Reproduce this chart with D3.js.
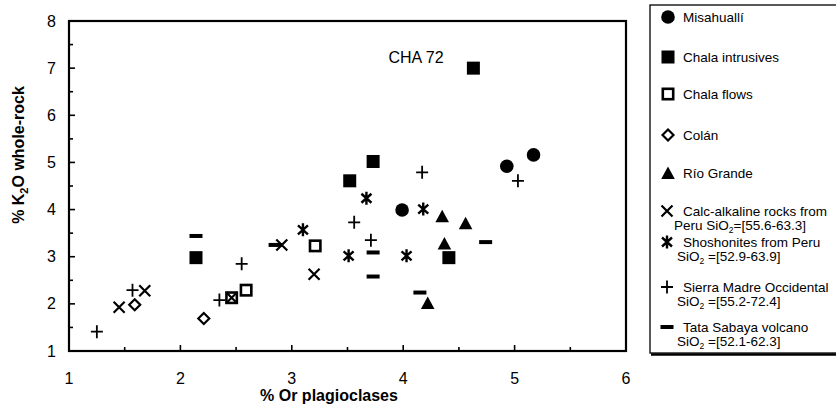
<!DOCTYPE html>
<html>
<head>
<meta charset="utf-8">
<script src="https://cdn.jsdelivr.net/npm/d3@7"></script>
<style>
  body { margin: 0; background: #fff; }
  svg { font-family: "Liberation Sans", Arial, Helvetica, sans-serif; }
</style>
</head>
<body>
<div id="chart"></div>
<script>
// values: [% Or plagioclases, % K2O whole-rock]
const misahualli = [[3.99, 3.99], [4.93, 4.92], [5.17, 5.16]]
const chalaIntrusives = [[4.63, 7.0], [3.73, 5.02], [3.52, 4.61], [2.14, 2.98], [4.41, 2.98]]
const chalaFlows = [[2.59, 2.29], [2.46, 2.13], [3.21, 3.23]]
const colan = [[1.59, 1.98], [2.21, 1.69]]
const rioGrande = [[4.35, 3.86], [4.56, 3.71], [4.37, 3.28], [4.22, 2.02]]
const calcAlkaline = [[1.45, 1.93], [1.68, 2.28], [2.46, 2.13], [2.91, 3.25], [3.20, 2.63]]
const shoshonites = [[3.10, 3.57], [3.67, 4.24], [3.51, 3.02], [4.03, 3.02], [4.18, 4.01]]
const sierraMadre = [[1.25, 1.41], [1.57, 2.29], [2.35, 2.08], [2.55, 2.85], [3.56, 3.73], [3.71, 3.35], [4.17, 4.79], [5.03, 4.61]]
const tataSabaya = [[2.14, 3.44], [3.73, 3.09], [3.73, 2.58], [4.15, 2.24], [4.74, 3.31], [2.85, 3.25]]

const xTicks = [1, 2, 3, 4, 5, 6]
const yTicks = [1, 2, 3, 4, 5, 6, 7, 8]

const series = [
  {name: 'Misahuallí', type: 'circle', data: misahualli},
  {name: 'Chala intrusives', type: 'square', data: chalaIntrusives},
  {name: 'Chala flows', type: 'openSquare', data: chalaFlows},
  {name: 'Colán', type: 'diamond', data: colan},
  {name: 'Río Grande', type: 'triangle', data: rioGrande},
  {name: 'Calc-alkaline rocks from', sub: ['Peru SiO', '=[55.6-63.3]'], type: 'x', data: calcAlkaline},
  {name: 'Shoshonites from Peru', sub: ['SiO', ' =[52.9-63.9]'], type: 'star', data: shoshonites},
  {name: 'Sierra Madre Occidental', sub: ['SiO', ' =[55.2-72.4]'], type: 'plus', data: sierraMadre},
  {name: 'Tata Sabaya volcano', sub: ['SiO', ' =[52.1-62.3]'], type: 'dash', data: tataSabaya}
]

const width = 836
const height = 406
const margin = {top: 21, right: 210, bottom: 55, left: 69}

const x = d3.scaleLinear().domain([1, 6]).range([margin.left, 626])
const y = d3.scaleLinear().domain([1, 8]).range([351, margin.top])

const svg = d3.select('#chart').append('svg')
    .attr('width', width)
    .attr('height', height)

function marker (g, type) {
  if (type === 'circle') {
    g.append('circle').attr('r', 6.8).attr('fill', '#000')
  } else if (type === 'square') {
    g.append('rect').attr('x', -6.5).attr('y', -6.5).attr('width', 13).attr('height', 13).attr('fill', '#000')
  } else if (type === 'openSquare') {
    g.append('rect').attr('x', -5.2).attr('y', -5.2).attr('width', 10.4).attr('height', 10.4)
      .attr('fill', '#fff').attr('stroke', '#000').attr('stroke-width', 2.6)
  } else if (type === 'diamond') {
    g.append('path').attr('d', 'M0,-5.5L5.5,0L0,5.5L-5.5,0Z')
      .attr('fill', '#fff').attr('stroke', '#000').attr('stroke-width', 2.2)
  } else if (type === 'triangle') {
    g.append('path').attr('d', 'M0,-6.5L6.8,6L-6.8,6Z').attr('fill', '#000')
  } else if (type === 'x') {
    g.append('path').attr('d', 'M-5.5,-5.5L5.5,5.5M5.5,-5.5L-5.5,5.5')
      .attr('stroke', '#000').attr('stroke-width', 2.2).attr('fill', 'none')
  } else if (type === 'star') {
    g.append('path').attr('d', 'M-5,-4.5L5,4.5M5,-4.5L-5,4.5M0,-6.5L0,6.5')
      .attr('stroke', '#000').attr('stroke-width', 2.4).attr('fill', 'none')
  } else if (type === 'plus') {
    g.append('path').attr('d', 'M-6,0L6,0M0,-6.5L0,6.5')
      .attr('stroke', '#000').attr('stroke-width', 1.8).attr('fill', 'none')
  } else if (type === 'dash') {
    g.append('rect').attr('x', -6.5).attr('y', -2).attr('width', 13).attr('height', 4).attr('fill', '#000')
  }
}

// frame
svg.append('rect')
    .attr('x', x(1)).attr('y', y(8))
    .attr('width', x(6) - x(1)).attr('height', y(1) - y(8))
    .attr('fill', 'none').attr('stroke', '#000').attr('stroke-width', 2.2)

// ticks (inside)
const yMinor = d3.range(1.5, 8, 1)
const xMinor = d3.range(1.5, 6, 1)
const tickG = svg.append('g').attr('stroke', '#000').attr('stroke-width', 1.6)
tickG.selectAll('.ym').data(yTicks.concat(yMinor)).join('line')
    .attr('x1', x(1)).attr('x2', d => x(1) + (Number.isInteger(d) ? 6 : 4))
    .attr('y1', d => y(d)).attr('y2', d => y(d))
tickG.selectAll('.xm').data(xTicks.concat(xMinor)).join('line')
    .attr('y1', y(1)).attr('y2', d => y(1) - (Number.isInteger(d) ? 6 : 4))
    .attr('x1', d => x(d)).attr('x2', d => x(d))

// tick labels
svg.append('g').selectAll('text').data(yTicks).join('text')
    .attr('x', 56).attr('y', d => y(d) + 5.5)
    .attr('text-anchor', 'end').attr('font-size', 16)
    .text(d => d)
svg.append('g').selectAll('text').data(xTicks).join('text')
    .attr('x', d => x(d)).attr('y', 384)
    .attr('text-anchor', 'middle').attr('font-size', 16)
    .text(d => d)

// axis titles
svg.append('text')
    .attr('x', 329).attr('y', 401)
    .attr('text-anchor', 'middle').attr('font-size', 16).attr('font-weight', 'bold')
    .text('% Or plagioclases')
const yt = svg.append('text')
    .attr('transform', 'translate(24,155)rotate(-90)')
    .attr('text-anchor', 'middle').attr('font-size', 16).attr('font-weight', 'bold')
yt.append('tspan').text('% K')
yt.append('tspan').attr('font-size', 11).attr('dy', 4).text('2')
yt.append('tspan').attr('dy', -4).text('O whole-rock')

// annotation
svg.append('text')
    .attr('x', 416).attr('y', 63)
    .attr('text-anchor', 'middle').attr('font-size', 16)
    .text('CHA 72')

// points
series.forEach(s => {
  svg.append('g').selectAll('g').data(s.data).join('g')
      .attr('transform', d => 'translate(' + x(d[0]) + ',' + y(d[1]) + ')')
      .each(function () { marker(d3.select(this), s.type) })
})

// legend
const legend = svg.append('g')
legend.append('rect')
    .attr('x', 650).attr('y', 5).attr('width', 200).attr('height', 348)
    .attr('fill', '#fff').attr('stroke', '#000').attr('stroke-width', 1.3)
legend.append('line')
    .attr('x1', 651).attr('x2', 836).attr('y1', 354.5).attr('y2', 354.5)
    .attr('stroke', '#000').attr('stroke-width', 2.5)

const rowY = [17, 57, 94, 135, 173, 211, 242, 287, 327]
const markX = [668, 668, 668, 668, 668, 667, 667, 667, 667]
series.forEach((s, i) => {
  const g = legend.append('g').attr('transform', 'translate(' + markX[i] + ',' + rowY[i] + ')')
  marker(g, s.type)
  legend.append('text')
      .attr('x', 683).attr('y', rowY[i] + 4.5)
      .attr('font-size', 13.5)
      .text(s.name)
  if (s.sub) {
    const t = legend.append('text')
        .attr('x', s.type === 'x' ? 674 : 677).attr('y', rowY[i] + 18.5)
        .attr('font-size', 13.5)
    t.append('tspan').text(s.sub[0])
    t.append('tspan').attr('font-size', 8.5).attr('dy', 3).text('2')
    t.append('tspan').attr('dy', -3).text(s.sub[1])
  }
})
</script>
</body>
</html>
